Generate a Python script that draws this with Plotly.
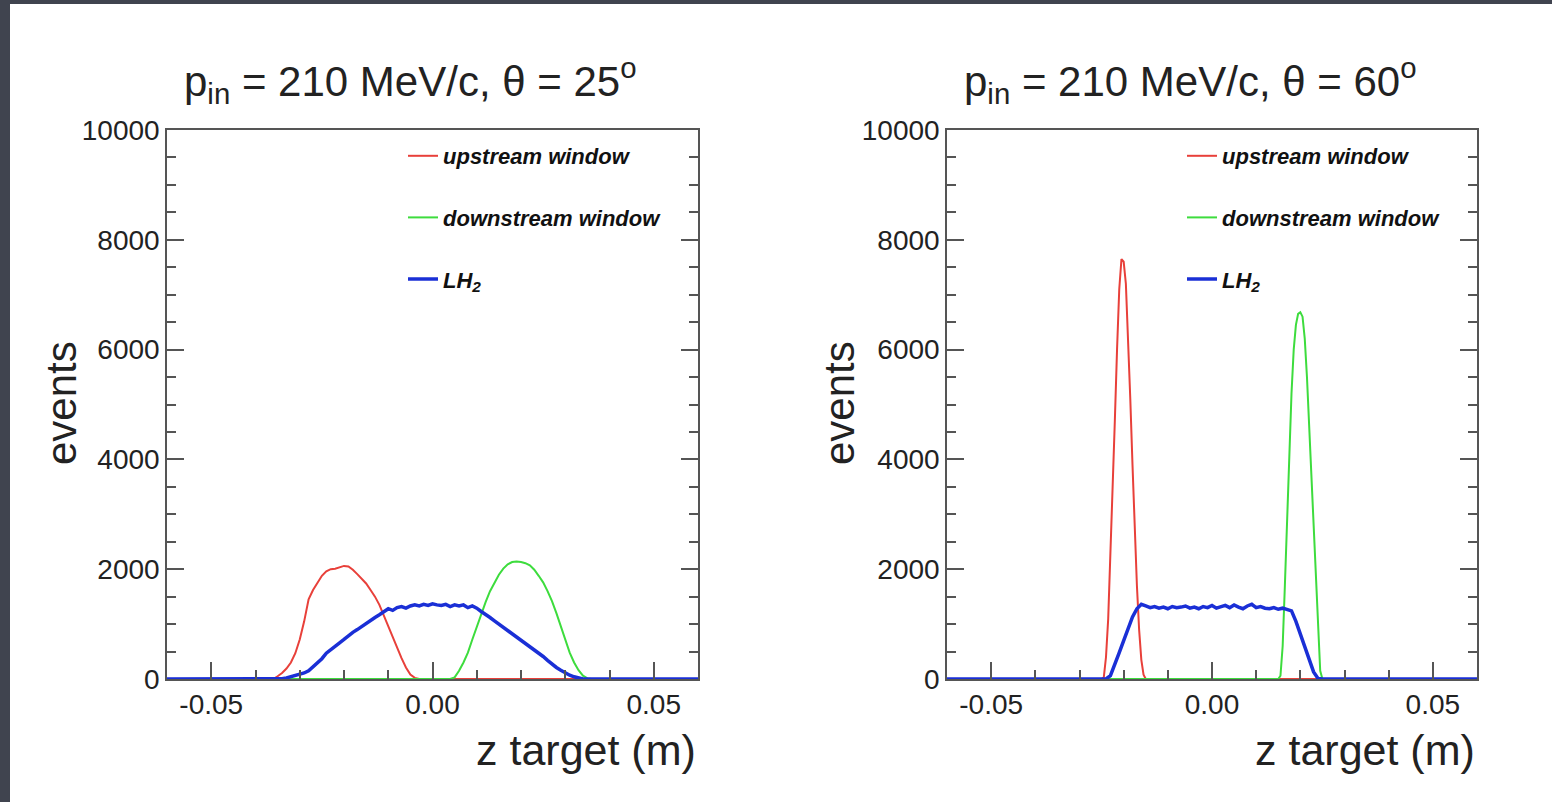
import plotly.graph_objects as go

# ---------------- data ----------------
Z_MIN, Z_MAX = -0.06, 0.06

def bins(start, step, n):
    return [round(start + i * step, 5) for i in range(n)]

# theta = 25 deg panel
up25_z = bins(-0.036, 0.001, 34)
up25_v = [0, 50, 110, 190, 300, 470, 720, 1050, 1450, 1620, 1750, 1880, 1960, 2000,
          2010, 2040, 2060, 2050, 1990, 1910, 1820, 1740, 1620, 1500, 1350, 1150,
          950, 760, 560, 380, 210, 80, 20, 0]

down25_z = bins(0.004, 0.001, 33)
down25_v = [0, 30, 150, 300, 480, 720, 960, 1180, 1400, 1600, 1760, 1900, 2010, 2090,
            2130, 2140, 2130, 2110, 2070, 1990, 1880, 1760, 1600, 1420, 1200, 960,
            720, 480, 300, 160, 60, 10, 0]

lh25_z = bins(-0.035, 0.001, 70)
lh25_v = [0, 5, 20, 40, 60, 85, 110, 150, 220, 290, 370, 470, 540, 600, 660, 720,
          790, 850, 900, 960, 1010, 1060, 1120, 1170, 1230, 1280, 1250, 1300, 1320,
          1290, 1330, 1350, 1330, 1360, 1340, 1370, 1350, 1340, 1360, 1320, 1350,
          1330, 1350, 1300, 1330, 1290, 1230, 1180, 1120, 1060, 1000, 950, 890, 830,
          770, 710, 650, 600, 540, 480, 410, 340, 270, 210, 160, 110, 70, 40, 15, 0]

# theta = 60 deg panel
up60_z = bins(-0.025, 0.0005, 21)
up60_v = [0, 30, 400, 1100, 2200, 3400, 4700, 6000, 7100, 7650, 7600, 7200, 6300,
          5100, 3900, 2700, 1700, 900, 350, 80, 0]

down60_z = bins(0.015, 0.0005, 21)
down60_v = [0, 60, 600, 1700, 2900, 4100, 5200, 6000, 6450, 6650, 6680, 6600, 6200,
            5500, 4600, 3600, 2700, 1800, 800, 150, 0]

lh60_z = bins(-0.025, 0.001, 51)
lh60_v = [0, 0, 60, 250, 480, 700, 930, 1130, 1280, 1360, 1330, 1300, 1320, 1290,
          1310, 1280, 1320, 1300, 1310, 1330, 1290, 1310, 1280, 1320, 1300, 1340,
          1290, 1310, 1340, 1300, 1350, 1310, 1280, 1330, 1360, 1300, 1320, 1290,
          1280, 1300, 1270, 1290, 1260, 1240, 1050, 820, 580, 340, 130, 10, 0]

series_names = ["upstream window", "downstream window", "LH<sub>2</sub>"]
series_colors = ["#e8403a", "#3ddc3d", "#1a2fd6"]
series_widths = [2, 2, 3.5]

panel_titles = ["p<sub>in</sub> = 210 MeV/c, θ = 25<sup>o</sup>",
                "p<sub>in</sub> = 210 MeV/c, θ = 60<sup>o</sup>"]

x_tickvals = [-0.05, 0.0, 0.05]
x_ticktext = ["-0.05", "0.00", "0.05"]
y_tickvals = [0, 2000, 4000, 6000, 8000, 10000]
y_ticktext = ["0", "2000", "4000", "6000", "8000", "10000"]

# ---------------- figure ----------------
W, H = 1552, 802
FONT = "Liberation Sans, Arial, Helvetica, sans-serif"
TXT = "#222222"

fig = go.Figure()

panels = [
    [(up25_z, up25_v), (down25_z, down25_v), (lh25_z, lh25_v)],
    [(up60_z, up60_v), (down60_z, down60_v), (lh60_z, lh60_v)],
]

for p, data in enumerate(panels):
    xa = "x" if p == 0 else "x2"
    ya = "y" if p == 0 else "y2"
    lg = "legend" if p == 0 else "legend2"
    for k, (zs, vs) in enumerate(data):
        fig.add_trace(go.Scatter(
            x=[Z_MIN] + zs + [Z_MAX], y=[0] + vs + [0],
            mode="lines", name=series_names[k],
            line=dict(color=series_colors[k], width=series_widths[k]),
            xaxis=xa, yaxis=ya, legend=lg, legendgroup=f"{p}{k}",
            hoverinfo="skip",
        ))

def px_x(v):
    return v / W

def px_y(v):
    return 1 - v / H

x_domains = [[px_x(167), px_x(698)], [px_x(947), px_x(1477)]]
y_domain = [px_y(679), px_y(130)]

axis_common = dict(
    showline=True, linecolor="#555555", linewidth=1.5,
    ticks="inside", tickcolor="#555555", tickwidth=1.5,
    showgrid=False, zeroline=False, automargin=False,
    tickfont=dict(family=FONT, size=28, color=TXT),
)

for p in range(2):
    sfx = "" if p == 0 else "2"
    fig.update_layout(**{
        f"xaxis{sfx}": dict(
            axis_common, domain=x_domains[p], range=[Z_MIN, Z_MAX],
            anchor="y" + sfx, mirror=True, ticklen=17,
            tickmode="array", tickvals=x_tickvals, ticktext=x_ticktext,
            minor=dict(ticks="inside", ticklen=9, dtick=0.01, tick0=0,
                       tickcolor="#555555", tickwidth=1.5),
        ),
        f"yaxis{sfx}": dict(
            axis_common, domain=y_domain, range=[0, 10000],
            anchor="x" + sfx, mirror="ticks", ticklen=17,
            tickmode="array", tickvals=y_tickvals, ticktext=y_ticktext,
            minor=dict(ticks="inside", ticklen=9, dtick=500, tick0=0,
                       tickcolor="#555555", tickwidth=1.5),
        ),
    })

legend_common = dict(
    bgcolor="rgba(0,0,0,0)", borderwidth=0,
    font=dict(family=FONT, size=22, color="#111111", weight="bold", style="italic"),
    tracegroupgap=30, xanchor="left", yanchor="top",
)
fig.update_layout(
    legend=dict(legend_common, x=px_x(403), y=px_y(135)),
    legend2=dict(legend_common, x=px_x(1182), y=px_y(135)),
)

annotations = []
title_x = [px_x(410), px_x(1190)]
xt_right = [px_x(698), px_x(1477)]
yt_x = [px_x(62), px_x(840)]
for p in range(2):
    annotations.append(dict(
        text=panel_titles[p], x=title_x[p], y=px_y(80), xref="paper", yref="paper",
        xanchor="center", yanchor="middle", showarrow=False,
        font=dict(family=FONT, size=42, color=TXT),
    ))
    annotations.append(dict(
        text="z target (m)", x=xt_right[p], y=px_y(750), xref="paper", yref="paper",
        xanchor="right", yanchor="middle", showarrow=False,
        font=dict(family=FONT, size=43, color=TXT),
    ))
    annotations.append(dict(
        text="events", x=yt_x[p], y=px_y(403), xref="paper", yref="paper",
        xanchor="center", yanchor="middle", showarrow=False, textangle=-90,
        font=dict(family=FONT, size=42, color=TXT),
    ))

fig.update_layout(
    width=W, height=H, autosize=False,
    margin=dict(l=0, r=0, t=0, b=0, pad=0, autoexpand=False),
    paper_bgcolor="#40444f", plot_bgcolor="white",
    showlegend=True,
    annotations=annotations,
    shapes=[dict(type="rect", xref="paper", yref="paper",
                 x0=px_x(10), x1=1.0, y0=0.0, y1=px_y(4),
                 fillcolor="white", line=dict(width=0), layer="below")],
)

fig.write_html("out.html")
